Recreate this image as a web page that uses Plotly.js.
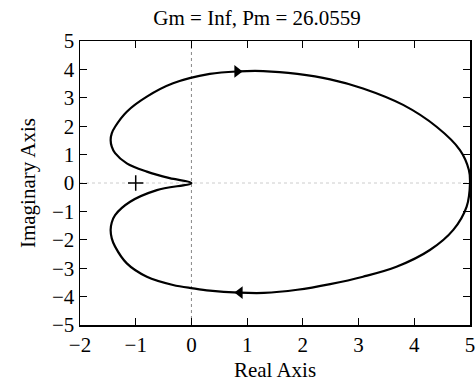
<!DOCTYPE html>
<html>
<head>
<meta charset="utf-8">
<script src="https://cdn.plot.ly/plotly-3.0.1.min.js"></script>
<style>html,body{margin:0;padding:0;background:#fff}#chart{width:476px;height:387px}</style>
</head>
<body>
<div id="chart"></div>
<script>
// Upper half (negative frequencies), from (5,0) round the top to the origin
const upperRe = [5.0, 4.98, 4.82, 4.40, 3.80, 3.08, 2.49, 1.9, 1.29, 0.85, 0.33, -0.33, -0.80, -1.16, -1.37, -1.43, -1.45, -1.43, -1.37, -1.16, -0.80, -0.39, 0.0];
const upperIm = [0.0, 0.46, 1.16, 1.98, 2.75, 3.33, 3.65, 3.84, 3.94, 3.93, 3.84, 3.51, 3.04, 2.51, 1.98, 1.75, 1.51, 1.28, 1.05, 0.69, 0.40, 0.17, 0.0];
// Lower half (positive frequencies), from (5,0) round the bottom to the origin
const lowerRe = [5.0, 4.94, 4.70, 4.28, 3.68, 3.08, 2.49, 1.9, 1.3, 0.85, 0.33, 0.03, -0.33, -0.80, -1.16, -1.37, -1.43, -1.45, -1.43, -1.37, -1.10, -0.62, 0.0];
const lowerIm = [0.0, -0.83, -1.65, -2.36, -2.95, -3.30, -3.56, -3.76, -3.87, -3.86, -3.79, -3.71, -3.59, -3.30, -2.83, -2.24, -1.95, -1.65, -1.39, -1.13, -0.66, -0.25, 0.0];
// Direction arrows
const arrowRe = [0.82, 0.87];
const arrowIm = [3.93, -3.86];
const arrowSymbols = ['triangle-right', 'triangle-left'];
// Critical point
const criticalRe = [-1];
const criticalIm = [0];
const xTicks = [-2, -1, 0, 1, 2, 3, 4, 5];
const yTicks = [-5, -4, -3, -2, -1, 0, 1, 2, 3, 4, 5];
const titleText = 'Gm = Inf, Pm = 26.0559';

const curveRe = upperRe.slice().reverse().concat(lowerRe.slice(1));
const curveIm = upperIm.slice().reverse().concat(lowerIm.slice(1));

const serif = '"Liberation Serif", "Times New Roman", serif';
const fs = 21;

const traces = [
  {x: curveRe, y: curveIm, mode: 'lines', line: {color: '#000', width: 2.2, shape: 'spline', smoothing: 1}, hoverinfo: 'skip'},
  {x: arrowRe, y: arrowIm, mode: 'markers', marker: {symbol: arrowSymbols, size: 11, color: '#000'}, hoverinfo: 'skip'},
  {x: criticalRe, y: criticalIm, mode: 'markers', marker: {symbol: 'cross-thin-open', size: 11, color: '#000', line: {color: '#000', width: 1.5}}, hoverinfo: 'skip'}
];

const axisCommon = {
  showgrid: false, zeroline: false, showline: true, linecolor: '#000', linewidth: 1.5,
  mirror: 'allticks', ticks: 'inside', ticklen: 7, tickwidth: 1, tickcolor: '#000',
  tickfont: {family: serif, size: fs, color: '#000'}
};

const layout = {
  width: 476, height: 387,
  margin: {l: 80, r: 6, t: 41, b: 62},
  paper_bgcolor: '#fff', plot_bgcolor: '#fff',
  showlegend: false,
  title: {text: titleText, font: {family: serif, size: fs, color: '#000'}, x: 0.54, xanchor: 'center', y: 0.955, yanchor: 'middle'},
  xaxis: Object.assign({}, axisCommon, {range: [-2, 5], tickvals: xTicks, ticktext: xTicks.map(v => v < 0 ? '\u2212' + Math.abs(v) : String(v)),
    title: {text: 'Real Axis', font: {family: serif, size: fs, color: '#000'}, standoff: 6}}),
  yaxis: Object.assign({}, axisCommon, {range: [-5, 5], tickvals: yTicks, ticktext: yTicks.map(v => v < 0 ? '\u2212' + Math.abs(v) : String(v)),
    title: {text: 'Imaginary Axis', font: {family: serif, size: fs, color: '#000'}, standoff: 10}}),
  shapes: [
    {type: 'line', xref: 'x', yref: 'paper', x0: 0, x1: 0, y0: 0, y1: 1, line: {color: '#888', width: 1, dash: 'dot'}, layer: 'below'},
    {type: 'line', xref: 'paper', yref: 'y', x0: 0, x1: 1, y0: 0, y1: 0, line: {color: '#ccc', width: 1, dash: 'dot'}, layer: 'below'}
  ]
};

Plotly.newPlot('chart', traces, layout, {displayModeBar: false, staticPlot: true});
</script>
</body>
</html>
